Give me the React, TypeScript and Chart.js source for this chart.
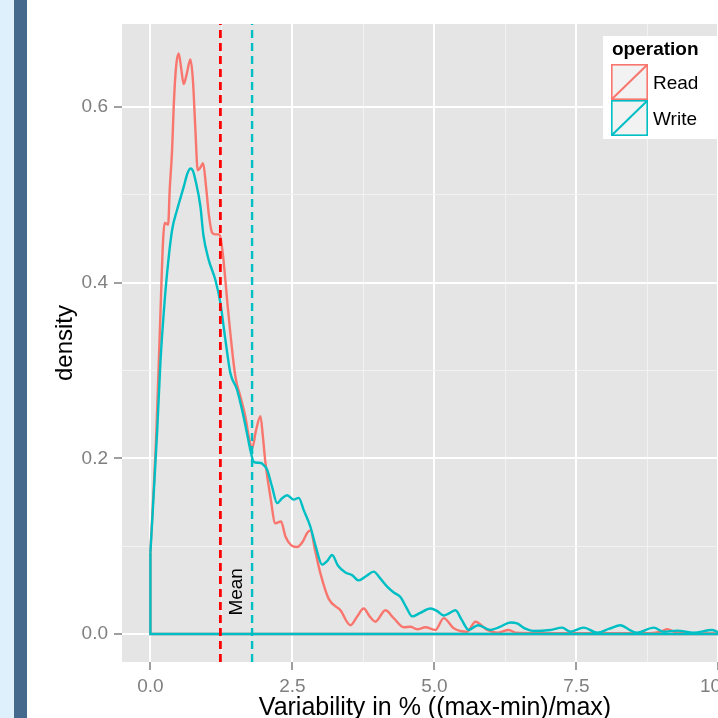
import React, { useEffect, useRef } from 'react';
import { Chart, registerables } from 'chart.js';

Chart.register(...registerables);

// ---- data ----
const readX = [0, 0.106, 0.167, 0.224, 0.252, 0.312, 0.34, 0.382, 0.41, 0.452, 0.498, 0.546, 0.586, 0.634, 0.704, 0.748, 0.792, 0.833, 0.88, 0.928, 0.977, 1.03, 1.086, 1.144, 1.202, 1.232, 1.28, 1.361, 1.408, 1.496, 1.585, 1.673, 1.731, 1.79, 1.86, 1.937, 1.98, 2.025, 2.113, 2.2, 2.3, 2.377, 2.48, 2.583, 2.68, 2.759, 2.817, 2.9, 2.993, 3.139, 3.345, 3.521, 3.64, 3.755, 3.86, 3.961, 4.137, 4.283, 4.46, 4.577, 4.695, 4.842, 5.018, 5.164, 5.34, 5.576, 5.722, 5.928, 6.104, 6.308, 6.426, 6.9, 7.5, 8.2, 8.8, 9.0, 9.097, 9.25, 9.5, 10.02];
const readY = [0.093, 0.232, 0.346, 0.449, 0.468, 0.466, 0.506, 0.551, 0.6, 0.646, 0.661, 0.642, 0.626, 0.636, 0.654, 0.631, 0.574, 0.528, 0.531, 0.536, 0.511, 0.477, 0.457, 0.455, 0.455, 0.452, 0.43, 0.373, 0.342, 0.293, 0.27, 0.247, 0.225, 0.211, 0.232, 0.248, 0.225, 0.195, 0.156, 0.126, 0.128, 0.111, 0.101, 0.099, 0.105, 0.115, 0.118, 0.095, 0.069, 0.04, 0.027, 0.01, 0.02, 0.029, 0.02, 0.014, 0.027, 0.018, 0.0076, 0.0083, 0.0054, 0.0076, 0.0046, 0.018, 0.0065, 0.0026, 0.014, 0.0046, 0.0015, 0.0046, 0.0015, 0.001, 0.0008, 0.001, 0.001, 0.003, 0.0054, 0.002, 0.0008, 0.0005];

const writeX = [0, 0.12, 0.176, 0.234, 0.294, 0.382, 0.47, 0.586, 0.65, 0.704, 0.75, 0.792, 0.88, 0.933, 1.026, 1.144, 1.232, 1.32, 1.408, 1.526, 1.614, 1.702, 1.761, 1.819, 1.9, 1.967, 2.055, 2.14, 2.231, 2.31, 2.407, 2.523, 2.611, 2.699, 2.817, 2.905, 3.023, 3.11, 3.199, 3.3, 3.433, 3.55, 3.667, 3.8, 3.931, 4.05, 4.167, 4.29, 4.401, 4.5, 4.607, 4.75, 4.93, 5.05, 5.164, 5.27, 5.37, 5.48, 5.604, 5.766, 5.986, 6.15, 6.338, 6.456, 6.6, 6.748, 7.042, 7.248, 7.394, 7.628, 7.864, 8.08, 8.275, 8.45, 8.569, 8.861, 9.037, 9.273, 9.565, 9.889, 10.02];
const writeY = [0.093, 0.232, 0.309, 0.365, 0.411, 0.46, 0.483, 0.509, 0.524, 0.53, 0.527, 0.517, 0.487, 0.454, 0.426, 0.403, 0.377, 0.335, 0.297, 0.278, 0.255, 0.228, 0.209, 0.196, 0.195, 0.194, 0.187, 0.168, 0.149, 0.154, 0.158, 0.153, 0.155, 0.141, 0.122, 0.101, 0.079, 0.083, 0.09, 0.078, 0.07, 0.067, 0.061, 0.066, 0.071, 0.063, 0.054, 0.047, 0.042, 0.031, 0.02, 0.024, 0.029, 0.026, 0.021, 0.024, 0.027, 0.016, 0.0046, 0.01, 0.0046, 0.008, 0.013, 0.012, 0.006, 0.0034, 0.0046, 0.0072, 0.0026, 0.0072, 0.0015, 0.006, 0.01, 0.004, 0.0015, 0.0072, 0.0026, 0.0038, 0.0015, 0.0046, 0.001];

const seriesNames = ['Read', 'Write'];
const seriesColors = ['#F8766D', '#00BFC4'];
const meanValues = [1.232, 1.79];
const meanColors = ['#FF0000', '#00BFC4'];

const xMajorTicks = [0, 2.5, 5, 7.5, 10];
const xMinorTicks = [1.25, 3.75, 6.25, 8.75];
const yMajorTicks = [0, 0.2, 0.4, 0.6];
const yMinorTicks = [0.1, 0.3, 0.5];
const xRange = [-0.5, 10.52];
const yRange = [-0.0319, 0.6945];

const meanLabelText = 'Mean';
const meanLabelPos = [1.52, 0.048];
const xTitle = 'Variability in % ((max-min)/max)';
const yTitle = 'density';
const legendTitle = 'operation';

const FONT = '"Liberation Sans", Arial, Helvetica, sans-serif';

const toPts = (xs: number[], ys: number[]) => xs.map((x, i) => ({ x, y: ys[i] }));
const basePts = (xs: number[], ys: number[]) => [
  { x: xs[0], y: ys[0] },
  { x: xs[0], y: 0 },
  { x: xs[xs.length - 1], y: 0 },
  { x: xs[xs.length - 1], y: ys[ys.length - 1] },
];

const bgPlugin = {
  id: 'bgPlugin',
  beforeDraw(chart: any) {
    const { ctx, chartArea: a, width, height } = chart;
    ctx.save();
    ctx.fillStyle = '#FFFFFF';
    ctx.fillRect(0, 0, width, height);
    ctx.fillStyle = '#DDF0FC';
    ctx.fillRect(0, 0, 14, height);
    ctx.fillStyle = '#45698C';
    ctx.fillRect(14, 0, 13, height);
    ctx.fillStyle = '#E5E5E5';
    ctx.fillRect(a.left, a.top, a.right - a.left, a.bottom - a.top);
    ctx.restore();
  },
};

const meanTextPlugin = {
  id: 'meanText',
  afterDatasetsDraw(chart: any) {
    const { ctx, scales } = chart;
    const px = scales.x.getPixelForValue(meanLabelPos[0]);
    const py = scales.y.getPixelForValue(meanLabelPos[1]);
    ctx.save();
    ctx.translate(px, py);
    ctx.rotate(-Math.PI / 2);
    ctx.fillStyle = '#000000';
    ctx.font = `19px ${FONT}`;
    ctx.textAlign = 'center';
    ctx.textBaseline = 'middle';
    ctx.fillText(meanLabelText, 0, 0);
    ctx.restore();
  },
};

const legendPlugin = {
  id: 'ggLegend',
  afterDraw(chart: any) {
    const { ctx, chartArea: a } = chart;
    const boxL = 603, boxT = 36, boxB = 139;
    ctx.save();
    ctx.fillStyle = '#FFFFFF';
    ctx.fillRect(boxL, boxT, a.right - boxL, boxB - boxT);
    ctx.fillStyle = '#000000';
    ctx.font = `bold 19px ${FONT}`;
    ctx.textAlign = 'left';
    ctx.textBaseline = 'alphabetic';
    ctx.fillText(legendTitle, 612, 55);
    const kx = 611, kw = 37, kh = 36, ky0 = 64;
    seriesNames.forEach((name, i) => {
      const ky = ky0 + i * kh;
      ctx.fillStyle = '#F2F2F2';
      ctx.fillRect(kx, ky, kw, kh);
      ctx.strokeStyle = seriesColors[i];
      ctx.lineWidth = 1.6;
      ctx.strokeRect(kx + 0.8, ky + 0.8, kw - 1.6, kh - 1.6);
      ctx.lineWidth = 2;
      ctx.beginPath();
      ctx.moveTo(kx + 1, ky + kh - 1);
      ctx.lineTo(kx + kw - 1, ky + 1);
      ctx.stroke();
      ctx.fillStyle = '#000000';
      ctx.font = `19px ${FONT}`;
      ctx.fillText(name, 653, ky + 24.5);
    });
    ctx.restore();
  },
};

export default function App() {
  const ref = useRef<HTMLCanvasElement | null>(null);
  useEffect(() => {
    if (!ref.current) return;
    const series = [toPts(readX, readY), toPts(writeX, writeY)];
    const bases = [basePts(readX, readY), basePts(writeX, writeY)];
    const datasets: any[] = [];
    series.forEach((pts, i) => {
      datasets.push({
        label: seriesNames[i],
        data: pts,
        borderColor: seriesColors[i],
        borderWidth: 2.4,
        pointRadius: 0,
        fill: false,
        cubicInterpolationMode: 'monotone',
        order: 10 - i * 2,
      });
      datasets.push({
        label: seriesNames[i] + ' outline',
        data: bases[i],
        borderColor: seriesColors[i],
        borderWidth: 2.4,
        pointRadius: 0,
        fill: false,
        tension: 0,
        order: 9 - i * 2,
      });
    });
    meanValues.forEach((m, i) => {
      datasets.push({
        label: 'mean ' + seriesNames[i],
        data: [{ x: m, y: yRange[0] }, { x: m, y: yRange[1] }],
        borderColor: meanColors[i],
        borderWidth: i === 0 ? 2.8 : 2.4,
        borderDash: [8, 5],
        pointRadius: 0,
        fill: false,
        order: 2 - i,
      });
    });

    const xAll = [...xMajorTicks, ...xMinorTicks].sort((p, q) => p - q);
    const yAll = [...yMajorTicks, ...yMinorTicks].sort((p, q) => p - q);

    const gridFor = (major: number[]) => ({
      color: (c: any) => (c.tick && major.includes(c.tick.value) ? '#FFFFFF' : '#F2F2F2'),
      lineWidth: (c: any) => (c.tick && major.includes(c.tick.value) ? 2 : 1),
      tickColor: (c: any) => (c.tick && major.includes(c.tick.value) ? '#7F7F7F' : 'rgba(0,0,0,0)'),
      tickWidth: 1.5,
      tickLength: 8,
      drawTicks: true,
      drawOnChartArea: true,
    });

    const chart = new Chart(ref.current, {
      type: 'line',
      data: { datasets },
      plugins: [bgPlugin, meanTextPlugin, legendPlugin],
      options: {
        animation: false,
        responsive: false,
        maintainAspectRatio: false,
        devicePixelRatio: 1,
        events: [],
        layout: { padding: { top: 24, left: 0, right: 0, bottom: 0 } },
        plugins: { legend: { display: false }, tooltip: { enabled: false } },
        scales: {
          x: {
            type: 'linear',
            min: xRange[0],
            max: xRange[1],
            afterBuildTicks: (s: any) => {
              s.ticks = xAll.map((v) => ({ value: v }));
            },
            afterFit: (s: any) => {
              s.height = 56;
              s.paddingLeft = 0;
              s.paddingRight = 0;
            },
            ticks: {
              autoSkip: false,
              maxRotation: 0,
              minRotation: 0,
              padding: 5,
              color: '#7F7F7F',
              font: { family: FONT, size: 19 },
              callback: (v: any) => (xMajorTicks.includes(v) ? Number(v).toFixed(1) : ''),
            },
            grid: gridFor(xMajorTicks),
            border: { display: false },
            title: {
              display: true,
              text: xTitle,
              color: '#000000',
              font: { family: FONT, size: 25, lineHeight: 1.2 },
              padding: { top: 0, bottom: -5.5 },
            },
          },
          y: {
            type: 'linear',
            min: yRange[0],
            max: yRange[1],
            afterBuildTicks: (s: any) => {
              s.ticks = yAll.map((v) => ({ value: v }));
            },
            afterFit: (s: any) => {
              s.width = 122;
              s.paddingTop = 0;
              s.paddingBottom = 0;
            },
            ticks: {
              autoSkip: false,
              padding: 6,
              color: '#7F7F7F',
              font: { family: FONT, size: 19 },
              callback: (v: any) => (yMajorTicks.includes(v) ? Number(v).toFixed(1) : ''),
            },
            grid: gridFor(yMajorTicks),
            border: { display: false },
            title: {
              display: true,
              text: yTitle,
              color: '#000000',
              font: { family: FONT, size: 24, lineHeight: 1.2 },
              padding: { top: 50.6, bottom: 0 },
            },
          },
        },
      } as any,
    });
    return () => chart.destroy();
  }, []);

  return (
    <div style={{ position: 'fixed', left: 0, top: 0, width: 718, height: 718, overflow: 'hidden', background: '#FFFFFF' }}>
      <canvas ref={ref} width={748} height={718} style={{ display: 'block', width: 748, height: 718 }} />
    </div>
  );
}
